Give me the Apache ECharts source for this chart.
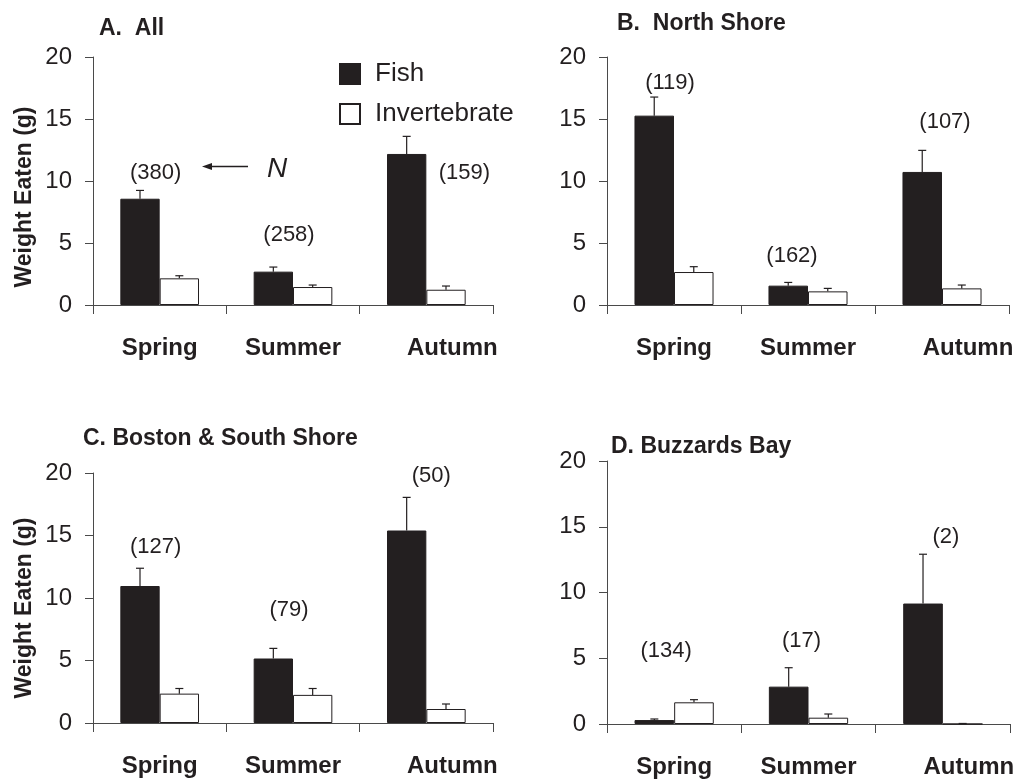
<!DOCTYPE html>
<html>
<head>
<meta charset="utf-8">
<script src="https://cdn.jsdelivr.net/npm/echarts@6/dist/echarts.min.js"></script>
<style>
html,body{margin:0;padding:0;background:#fff;}
#chart{width:1013px;height:781px;}
</style>
</head>
<body>
<div id="chart"></div>
<script>
// ---------- DATA ----------
const categories = ['Spring', 'Summer', 'Autumn'];
const seriesNames = ['Fish', 'Invertebrate'];
const yTicks = [0, 5, 10, 15, 20];

// A. All
const fishA = [8.57, 2.69, 12.18];
const fishErrA = [0.67, 0.37, 1.42];
const invA = [2.15, 1.45, 1.23];
const invErrA = [0.21, 0.16, 0.30];
const nA = [380, 258, 159];

// B. North Shore
const fishB = [15.27, 1.56, 10.73];
const fishErrB = [1.50, 0.26, 1.74];
const invB = [2.66, 1.10, 1.34];
const invErrB = [0.43, 0.24, 0.27];
const nB = [119, 162, 107];

// C. Boston & South Shore
const fishC = [10.96, 5.16, 15.40];
const fishErrC = [1.42, 0.81, 2.65];
const invC = [2.35, 2.25, 1.12];
const invErrC = [0.41, 0.51, 0.40];
const nC = [127, 79, 50];

// D. Buzzards Bay
const fishD = [0.30, 2.84, 9.16];
const fishErrD = [0.08, 1.44, 3.75];
const invD = [1.65, 0.48, 0.00];
const invErrD = [0.20, 0.28, 0.04];
const nD = [134, 17, 2];

const titles = ['A.  All', 'B.  North Shore', 'C. Boston & South Shore', 'D. Buzzards Bay'];
const yName = 'Weight Eaten (g)';

// ---------- LAYOUT / STYLE ----------
const FONT = '"Liberation Sans", Arial, Helvetica, sans-serif';
const INK = '#231f20';
const AXIS = '#4a4a4a';
const grids = [
  {left: 93, top: 57, width: 400, height: 248},
  {left: 607, top: 57, width: 402, height: 248},
  {left: 93, top: 473, width: 400, height: 250},
  {left: 607, top: 461, width: 403, height: 263}
];
// where the (N) annotations sit: y in axis units, x offset in px from category centre
const nLabelY = [[10.65, 5.67, 10.67], [17.9, 3.92, 14.8], [14.11, 9.04, 19.73], [5.57, 6.33, 14.22]];
const nLabelDx = [[-4, -4, 38], [-4, -16, 3], [-4, -4, 5], [-8, -7, 3]];
const titlePos = [[99, 29], [617, 23.5], [83, 439], [611, 447]];
const yNamePos = [[25, 197], null, [25, 608], null];
const CAT_GAP = 0.41;

const panels = [
  {fish: fishA, fishErr: fishErrA, inv: invA, invErr: invErrA, n: nA},
  {fish: fishB, fishErr: fishErrB, inv: invB, invErr: invErrB, n: nB},
  {fish: fishC, fishErr: fishErrC, inv: invC, invErr: invErrC, n: nC},
  {fish: fishD, fishErr: fishErrD, inv: invD, invErr: invErrD, n: nD}
];

const option = {
  animation: false,
  backgroundColor: '#fff',
  textStyle: {fontFamily: FONT, color: INK},
  grid: grids.map(g => Object.assign({containLabel: false, outerBoundsMode: 'none'}, g)),
  legend: {
    orient: 'vertical',
    left: 334, top: 56,
    itemWidth: 20, itemHeight: 20, itemGap: 14,
    icon: 'rect',
    data: seriesNames,
    textStyle: {fontSize: 26, color: INK, fontFamily: FONT, padding: [0, 0, 0, 10]}
  },
  xAxis: grids.map((g, i) => ({
    type: 'category', gridIndex: i, data: categories,
    axisLine: {lineStyle: {color: AXIS, width: 1}},
    axisTick: {show: true, length: 9, lineStyle: {color: AXIS}},
    axisLabel: {
      margin: 31,
      formatter: v => v === 'Autumn' ? '{a|' + v + '}' : '{b|' + v + '}',
      rich: {
        a: {fontSize: 24, fontWeight: 'bold', color: INK, fontFamily: FONT, padding: [0, 0, 0, 52]},
        b: {fontSize: 24, fontWeight: 'bold', color: INK, fontFamily: FONT}
      }
    },
    splitLine: {show: false}
  })),
  yAxis: grids.map((g, i) => ({
    type: 'value', gridIndex: i, min: yTicks[0], max: yTicks[yTicks.length - 1], interval: 5,
    axisLine: {show: true, lineStyle: {color: AXIS, width: 1}},
    axisTick: {show: true, length: 8, lineStyle: {color: AXIS}},
    axisLabel: {fontSize: 24, color: INK, margin: 21, fontFamily: FONT},
    splitLine: {show: false}
  })),
  series: [],
  graphic: []
};

panels.forEach((p, gi) => {
  option.series.push({
    type: 'bar', name: 'Fish', xAxisIndex: gi, yAxisIndex: gi,
    data: p.fish, barGap: '0%', barCategoryGap: (CAT_GAP * 100) + '%',
    itemStyle: {color: INK, borderColor: INK, borderWidth: 1}, z: 2
  });
  option.series.push({
    type: 'bar', name: 'Invertebrate', xAxisIndex: gi, yAxisIndex: gi,
    data: p.inv, barGap: '0%', barCategoryGap: (CAT_GAP * 100) + '%',
    itemStyle: {color: '#fff', borderColor: INK, borderWidth: 1}, z: 2
  });
  // error bars
  [[p.fish, p.fishErr, -1, 'Fish'], [p.inv, p.invErr, 1, 'Invertebrate']].forEach(([vals, errs, side, nm]) => {
    option.series.push({
      type: 'custom', name: nm, xAxisIndex: gi, yAxisIndex: gi, z: 5,
      data: vals.map((v, i) => [i, v, errs[i]]),
      renderItem: (params, api) => {
        const cat = api.value(0), v = api.value(1), e = api.value(2);
        const band = api.size([1, 0])[0];
        const barW = band * (1 - CAT_GAP) / 2;
        const base = api.coord([cat, v]);
        const topP = api.coord([cat, v + e]);
        const x = base[0] + side * barW / 2;
        const st = {stroke: INK, lineWidth: 1.2};
        return {
          type: 'group',
          children: [
            {type: 'line', shape: {x1: x, y1: base[1], x2: x, y2: topP[1]}, style: st},
            {type: 'line', shape: {x1: x - 4, y1: topP[1], x2: x + 4, y2: topP[1]}, style: st}
          ]
        };
      }
    });
  });
  // N annotations
  option.series.push({
    type: 'custom', xAxisIndex: gi, yAxisIndex: gi, z: 6, silent: true,
    data: p.n.map((n, i) => [i, nLabelY[gi][i], n]),
    renderItem: (params, api) => {
      const pt = api.coord([api.value(0), api.value(1)]);
      return {
        type: 'text',
        x: pt[0] + nLabelDx[gi][params.dataIndex], y: pt[1],
        style: {text: '(' + api.value(2) + ')', fontSize: 22, fontFamily: FONT, fill: INK, align: 'center', verticalAlign: 'middle'}
      };
    }
  });
  option.graphic.push({
    type: 'text', x: titlePos[gi][0], y: titlePos[gi][1],
    style: {text: titles[gi], fontSize: 23, fontWeight: 'bold', fontFamily: FONT, fill: INK, align: 'left', verticalAlign: 'middle'}
  });
  if (yNamePos[gi]) {
    option.graphic.push({
      type: 'text', x: yNamePos[gi][0], y: yNamePos[gi][1], rotation: Math.PI / 2,
      style: {text: yName, fontSize: 23, fontWeight: 'bold', fontFamily: FONT, fill: INK, align: 'center', verticalAlign: 'middle'}
    });
  }
});

// "N" arrow annotation in panel A
option.graphic.push(
  {type: 'line', shape: {x1: 248, y1: 166.5, x2: 208, y2: 166.5}, style: {stroke: INK, lineWidth: 1.3}},
  {type: 'polygon', shape: {points: [[202, 166.5], [212, 163], [212, 170]]}, style: {fill: INK}},
  {type: 'text', x: 277, y: 169, style: {text: 'N', fontSize: 28, fontStyle: 'italic', fontFamily: FONT, fill: INK, align: 'center', verticalAlign: 'middle'}}
);

const chart = echarts.init(document.getElementById('chart'), null, {renderer: 'canvas'});
chart.setOption(option);
</script>
</body>
</html>
